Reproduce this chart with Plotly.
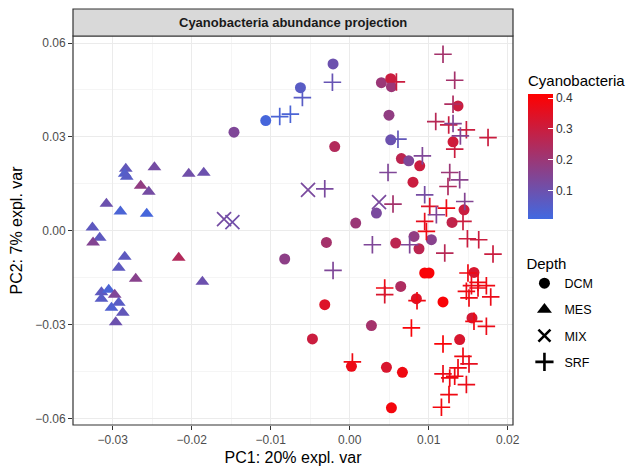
import plotly.graph_objects as go

# ---------------- data ----------------
# DCM (circles)
dcm_pc1 = [-0.00211, -0.00624, -0.01063, -0.01465, -0.00190, -0.00295, -0.00823, -0.00316, -0.00472, 0.00022,
           0.00401, 0.00519, 0.00528, 0.01371, 0.00497, 0.01308, 0.00519, 0.00654, 0.00747, 0.00886,
           0.00801, 0.00338, 0.00076, 0.01447, 0.01295, 0.00814, 0.01034, 0.00877, 0.00582, 0.00949,
           0.01004, 0.01573, 0.00646, 0.00844, 0.01181, 0.01548, 0.00275, 0.01392, 0.00465, 0.00667,
           0.00528]
dcm_pc2 = [0.05330, 0.04574, 0.03521, 0.03150, 0.02691, -0.00373, -0.00903, -0.02362, -0.03457, -0.04331,
           0.04733, 0.04861, 0.04606, 0.03990, 0.03693, 0.02841, 0.02905, 0.02308, 0.02234, 0.02075,
           0.01554, 0.00565, 0.00246, 0.00670, 0.00265, -0.00182, -0.00287, -0.00575, -0.00393, -0.01350,
           -0.01350, -0.01331, -0.01778, -0.02170, -0.02276, -0.02786, -0.03032, -0.03479, -0.04363, -0.04523,
           -0.05659]
dcm_cyano = [0.10, 0.06, 0.02, 0.14, 0.25, 0.22, 0.17, 0.34, 0.30, 0.37,
             0.20, 0.30, 0.20, 0.30, 0.18, 0.31, 0.10, 0.27, 0.14, 0.30,
             0.30, 0.13, 0.20, 0.30, 0.28, 0.18, 0.16, 0.27, 0.27, 0.40,
             0.40, 0.33, 0.24, 0.34, 0.40, 0.32, 0.22, 0.33, 0.33, 0.38,
             0.39]

# MES (triangles)
mes_pc1 = [-0.02835, -0.02848, -0.02823, -0.02472, -0.02038, -0.01848, -0.02646, -0.02544, -0.03080, -0.02903,
           -0.02570, -0.03257, -0.03165, -0.03249, -0.02848, -0.02924, -0.02165, -0.02709, -0.01865, -0.03143,
           -0.03051, -0.02975, -0.03143, -0.02924, -0.03016, -0.02873, -0.02962]
mes_pc2 = [0.01979, 0.01819, 0.01724, 0.02033, 0.01819, 0.01851, 0.01436, 0.01245, 0.00862, 0.00616,
           0.00543, 0.00105, -0.00223, -0.00373, -0.00830, -0.01181, -0.00862, -0.01532, -0.01628, -0.01969,
           -0.01883, -0.02043, -0.02170, -0.02298, -0.02458, -0.02617, -0.02927]
mes_cyano = [0.08, 0.05, 0.06, 0.12, 0.11, 0.10, 0.18, 0.12, 0.10, 0.03,
             0.02, 0.07, 0.07, 0.15, 0.07, 0.07, 0.25, 0.16, 0.10, 0.07,
             0.03, 0.14, 0.06, 0.06, 0.04, 0.08, 0.10]

# MIX (x)
mix_pc1 = [-0.01591, -0.01485, -0.00528, 0.00371]
mix_pc2 = [0.00373, 0.00278, 0.01309, 0.00916]
mix_cyano = [0.12, 0.11, 0.13, 0.13]

# SRF (+)
srf_pc1 = [-0.00219, -0.00599, -0.00751, -0.00886, -0.00316, -0.00211, 0.01181, 0.01329, 0.00591, 0.01308,
           0.01089, 0.01253, 0.01308, 0.01477, 0.01751, 0.01401, 0.01329, 0.00611, 0.00920, 0.00485,
           0.01266, 0.01392, 0.01244, 0.00949, 0.00548, 0.01456, 0.01013, 0.01224, 0.01097, 0.00949,
           0.01434, 0.00971, 0.00759, 0.00287, 0.01490, 0.01633, 0.01203, 0.01814, 0.01497, 0.01624,
           0.01541, 0.01730, 0.00443, 0.00443, 0.00852, 0.01477, 0.01624, 0.01510, 0.01785, 0.01573,
           0.01730, 0.00781, 0.01181, 0.01434, 0.01510, 0.01371, 0.00034, 0.01181, 0.01266, 0.01329,
           0.01477, 0.01257, 0.01161]
srf_pc2 = [0.04746, 0.04255, 0.03725, 0.03648, 0.01341, -0.01267, 0.05640, 0.04810, 0.04756, 0.04044,
           0.03489, 0.03383, 0.03425, 0.03224, 0.02978, 0.03032, 0.02608, 0.02927, 0.02394, 0.01861,
           0.01861, 0.01628, 0.01414, 0.01149, 0.00852, 0.00935, 0.00776, 0.00725, 0.00511, 0.00297,
           0.00297, -0.00022, -0.00447, -0.00447, -0.00255, -0.00287, -0.00712, -0.00744, -0.01350, -0.01650,
           -0.01755, -0.01755, -0.01829, -0.02043, -0.02234, -0.01937, -0.01829, -0.02148, -0.02116, -0.02895,
           -0.03055, -0.03106, -0.03616, -0.04012, -0.04255, -0.04382, -0.04191, -0.04574, -0.04702, -0.04650,
           -0.04915, -0.05235, -0.05640]
srf_cyano = [0.09, 0.06, 0.03, 0.03, 0.13, 0.14, 0.22, 0.22, 0.30, 0.24,
             0.26, 0.30, 0.15, 0.30, 0.30, 0.15, 0.30, 0.08, 0.14, 0.14,
             0.20, 0.16, 0.24, 0.12, 0.22, 0.15, 0.34, 0.38, 0.14, 0.36,
             0.30, 0.38, 0.14, 0.14, 0.30, 0.30, 0.26, 0.30, 0.38, 0.38,
             0.37, 0.38, 0.38, 0.33, 0.38, 0.38, 0.37, 0.38, 0.37, 0.38,
             0.37, 0.40, 0.40, 0.38, 0.36, 0.38, 0.38, 0.37, 0.38, 0.38,
             0.37, 0.38, 0.39]

depth_levels = ["DCM", "MES", "MIX", "SRF"]
cbar_ticks = [0.1, 0.2, 0.3, 0.4]
c_min, c_max = 0.009, 0.413

cscale = [[0, "rgb(65,105,225)"], [1, "rgb(255,0,0)"]]

FONT = "Liberation Sans, Arial, sans-serif"
PLOT_H = 389  # plot-area height in px (for paper positions)
PLOT_B = 425  # plot-area bottom in page px

fig = go.Figure()

def add_series(x, y, v, symbol, size, thin=False, showscale=False):
    marker = dict(symbol=symbol, size=size, color=v, colorscale=cscale, cmin=c_min, cmax=c_max,
                  opacity=1)
    if thin:
        marker["line"] = dict(width=1.7, color=v, colorscale=cscale, cmin=c_min, cmax=c_max)
    else:
        marker["line"] = dict(width=0)
    if showscale:
        marker["showscale"] = True
        marker["colorbar"] = dict(
            title=dict(text="Cyanobacteria", side="top", font=dict(size=15, family=FONT, color="#000")),
            tickvals=cbar_ticks, ticktext=[f"{t:.1f}" for t in cbar_ticks],
            ticks="inside", ticklen=5, tickcolor="white", tickwidth=1,
            tickfont=dict(size=12, family=FONT, color="#333"),
            lenmode="pixels", len=147, thickness=25, thicknessmode="pixels",
            x=1.034, xanchor="left", y=(PLOT_B - 72) / PLOT_H, yanchor="top",
            outlinewidth=0, xpad=0, ypad=0,
        )
    fig.add_trace(go.Scatter(x=x, y=y, mode="markers", marker=marker, showlegend=False,
                             hoverinfo="x+y"))

add_series(dcm_pc1, dcm_pc2, dcm_cyano, "circle", 11, showscale=True)
add_series(mes_pc1, mes_pc2, mes_cyano, "triangle-up", 12)
add_series(mix_pc1, mix_pc2, mix_cyano, "x-thin", 14, thin=True)
add_series(srf_pc1, srf_pc2, srf_cyano, "cross-thin", 12.5, thin=True)

# legend entries (shape key, black)
leg_sym = {"DCM": ("circle", 11, False), "MES": ("triangle-up", 13, False),
           "MIX": ("x-thin", 12, True), "SRF": ("cross-thin", 13, True)}
for lev in depth_levels:
    sym, sz, thin = leg_sym[lev]
    mk = dict(symbol=sym, size=sz, color="black")
    mk["line"] = dict(width=2.6, color="black") if thin else dict(width=0)
    fig.add_trace(go.Scatter(x=[None], y=[None], mode="markers", marker=mk, name=lev,
                             legendgroup=lev, showlegend=True))

axis_common = dict(
    showgrid=True, gridcolor="#ebebeb", gridwidth=1.1, zeroline=False,
    ticks="outside", ticklen=4, tickcolor="#333333", tickwidth=1,
    tickfont=dict(size=12, family=FONT, color="#4d4d4d"),
    showline=False, tickformat=".2f",
)

# the page body has an 8px margin, so the figure is 8px smaller than the window
fig.update_layout(
    width=629, height=460,
    margin=dict(l=65, r=124, t=28, b=43, autoexpand=False),
    paper_bgcolor="white", plot_bgcolor="white",
    font=dict(family=FONT),
    xaxis=dict(range=[-0.03503, 0.02067], tick0=0, dtick=0.01,
               minor=dict(showgrid=True, gridcolor="#f5f5f5", dtick=0.005, tick0=0),
               title=dict(text="PC1: 20% expl. var", font=dict(size=16, family=FONT, color="#000"), standoff=5),
               **axis_common),
    yaxis=dict(range=[-0.06208, 0.06224], tick0=0, dtick=0.03,
               minor=dict(showgrid=True, gridcolor="#f5f5f5", dtick=0.015, tick0=0),
               title=dict(text="PC2: 7% expl. var", font=dict(size=16, family=FONT, color="#000"), standoff=10),
               **axis_common),
    legend=dict(title=dict(text="Depth", font=dict(size=15, family=FONT, color="#000")),
                x=1.026, xanchor="left", y=(PLOT_B - 249) / PLOT_H, yanchor="top",
                font=dict(size=12.5, family=FONT, color="#000"),
                bgcolor="rgba(0,0,0,0)", tracegroupgap=7, itemwidth=30),
    shapes=[
        dict(type="rect", xref="paper", yref="paper", x0=0, x1=1, y0=0, y1=1,
             line=dict(color="#333333", width=1.2), fillcolor="rgba(0,0,0,0)", layer="above"),
        dict(type="rect", xref="paper", yref="paper", x0=0, x1=1, y0=1, y1=1 + 27 / PLOT_H,
             line=dict(color="#333333", width=1.2), fillcolor="#d9d9d9", layer="above"),
    ],
    annotations=[
        dict(text="<b>Cyanobacteria abundance projection</b>", xref="paper", yref="paper",
             x=0.5, y=1 + 13.5 / PLOT_H, xanchor="center", yanchor="middle", showarrow=False,
             font=dict(size=13, family=FONT, color="#1a1a1a")),
    ],
)

fig.write_html("out.html")
